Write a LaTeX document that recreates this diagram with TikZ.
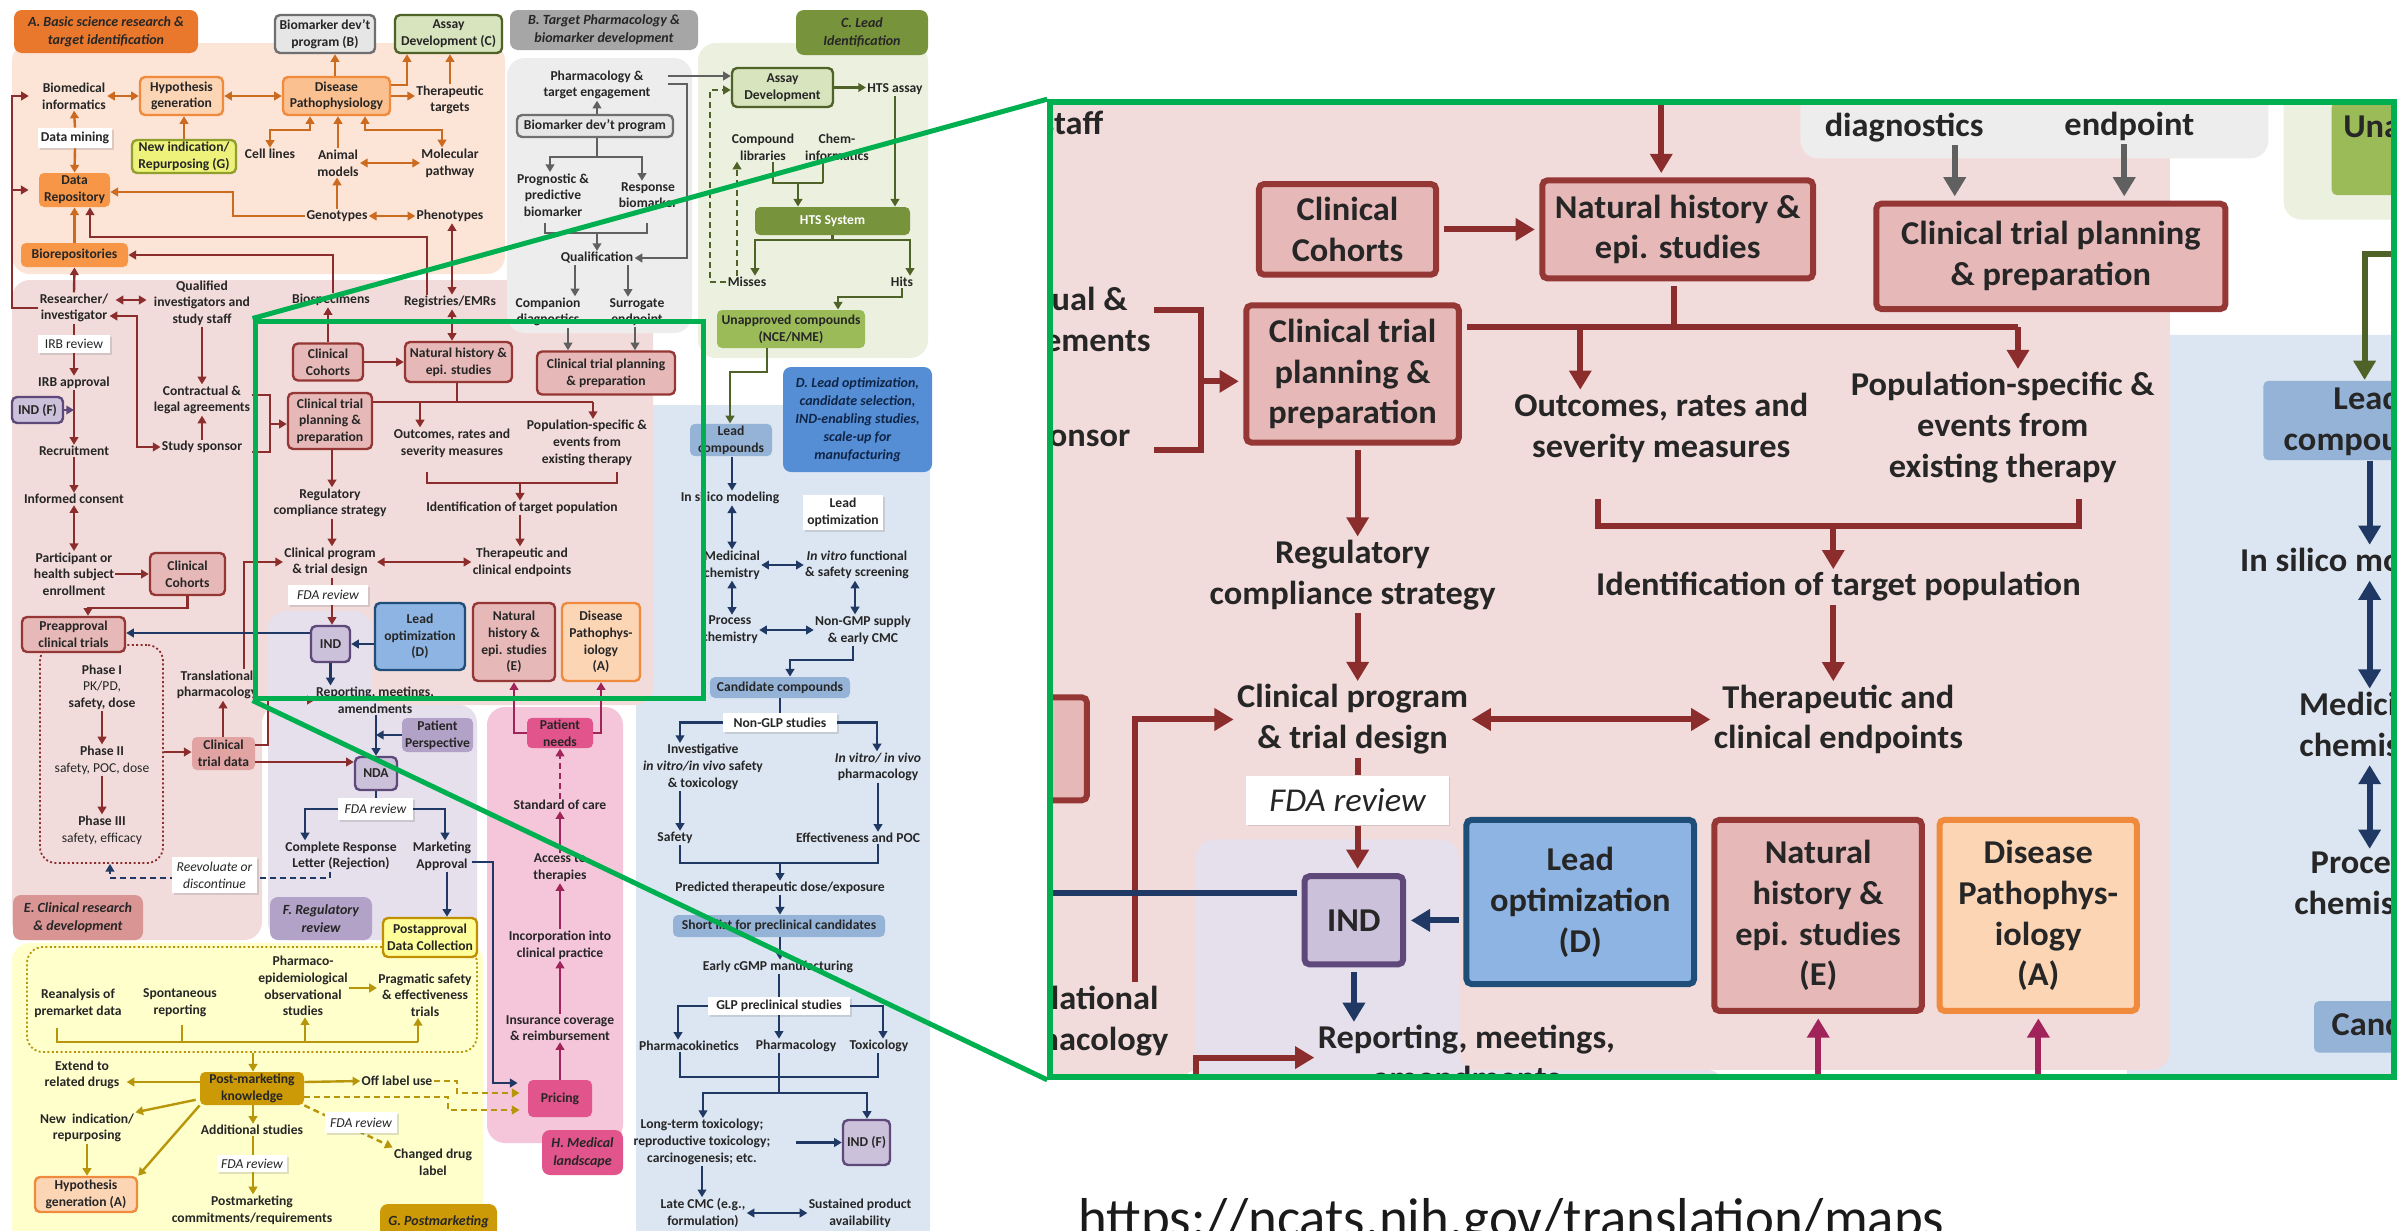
\documentclass[tikz,border=0pt]{standalone}
\usepackage{fontspec}
\setmainfont{Carlito}
\usetikzlibrary{arrows.meta,calc,shadows}
\definecolor{bgA}{HTML}{FCE4D6}\definecolor{bgB}{HTML}{EDEDED}\definecolor{bgC}{HTML}{EBF1DE}
\definecolor{bgD}{HTML}{DCE6F2}\definecolor{bgE}{HTML}{F2DCDB}\definecolor{bgF}{HTML}{E5E0EC}
\definecolor{bgG}{HTML}{FFFFCC}\definecolor{bgH}{HTML}{F5C6DA}
\definecolor{labA}{HTML}{E9782D}\definecolor{labB}{HTML}{A6A6A6}\definecolor{labC}{HTML}{77933C}
\definecolor{labD}{HTML}{558ED5}\definecolor{labE}{HTML}{D99594}\definecolor{lavD}{HTML}{B3A2C7}
\definecolor{magF}{HTML}{E2558C}\definecolor{gldF}{HTML}{CC9A06}
\definecolor{pch}{HTML}{FCD5B5}\definecolor{pchD}{HTML}{FAC090}\definecolor{orgB}{HTML}{F08A3C}
\definecolor{orgF}{HTML}{F79646}\definecolor{ylw}{HTML}{EEF27A}\definecolor{ylwB}{HTML}{8FA02E}
\definecolor{gryF}{HTML}{E7E6E6}\definecolor{gryB}{HTML}{6F6F6F}\definecolor{grnF}{HTML}{D7E4BD}
\definecolor{grnB}{HTML}{4F6228}\definecolor{grnM}{HTML}{9BBB59}\definecolor{pnkF}{HTML}{E6B9B8}
\definecolor{pnkB}{HTML}{953735}\definecolor{ctdF}{HTML}{E2A3A3}\definecolor{lavF}{HTML}{CCC1DA}
\definecolor{purB}{HTML}{5F497A}\definecolor{bluF}{HTML}{8DB4E2}\definecolor{bluB}{HTML}{1F4E79}
\definecolor{bluM}{HTML}{95B3D7}\definecolor{ylwP}{HTML}{FFFF99}\definecolor{gldB}{HTML}{C09000}
\definecolor{txt}{HTML}{262626}\definecolor{navT}{HTML}{0F2547}
\definecolor{org}{HTML}{CC6A1F}\definecolor{mar}{HTML}{8C2D2D}\definecolor{gry}{HTML}{606060}
\definecolor{grn}{HTML}{4F6228}\definecolor{nav}{HTML}{1F3864}\definecolor{pur}{HTML}{5F497A}
\definecolor{mag}{HTML}{A0245A}\definecolor{gld}{HTML}{B8960C}\definecolor{zgrn}{HTML}{00B050}
\definecolor{urlc}{HTML}{1A1A1A}

\newcommand\lw{1.2pt}
\newcommand\mapfont{\fontsize{6.8}{8.35}\selectfont\bfseries}
\newcommand\labfont{\fontsize{7}{9}\selectfont\bfseries\itshape}
\newcommand\regfont{\fontsize{6.8}{8.35}\selectfont\mdseries}
\newcommand\itfont{\fontsize{6.8}{8.35}\selectfont\mdseries\itshape}

\tikzset{
 >={Triangle[length=0pt 3.2,width=0pt 3.6]},
 tx/.style={font=\mapfont, text=txt, align=center, inner sep=0.5pt},
 wh/.style 2 args={minimum width=#1*0.5pt, minimum height=#2*0.5pt},
 bx/.style={tx, draw, rounded corners=2.5pt, line width=\lw, inner sep=1pt},
 fb/.style={tx, rounded corners=2.5pt, inner sep=1pt},
 wb/.style={tx, fill=white, inner sep=1pt, font=\itfont, drop shadow={shadow xshift=0.8pt, shadow yshift=-0.8pt, opacity=0.25}},
 lab/.style={font=\labfont, text=txt, align=center, rounded corners=4pt, inner sep=1pt},
 ln/.style={line width=\lw},
 arr/.style={line width=\lw, ->},
 darr/.style={line width=\lw, <->},
 dsh/.style={dash pattern=on 3pt off 2pt},
}

% ================= backgrounds
\newcommand\mapbg{%
\fill[bgD, rounded corners=9pt] (636,405) rectangle (930,1245);
\fill[bgE, rounded corners=9pt] (12,280) -- (653,280) -- (653,705) -- (262,705) -- (262,940) -- (12,940) -- cycle;
\fill[bgA, rounded corners=9pt] (12,43) rectangle (505,274);
\fill[bgB, rounded corners=9pt] (507,58) rectangle (692,333);
\fill[bgC, rounded corners=9pt] (698,43) rectangle (928,358);
\fill[bgF, rounded corners=9pt] (268,611) -- (372,611) -- (372,705) -- (477,705) -- (477,940) -- (268,940) -- cycle;
\fill[bgH, rounded corners=9pt] (487,707) rectangle (623,1143);
\fill[bgG, rounded corners=9pt] (12,943) rectangle (483,1245);
}

% ================= elements that also appear in the magnified view
\newcommand\mapnear{%
\node[tx] (qualinv) at (202,303) {Qualified\\investigators and\\study staff};
\node[tx] (contract) at (202,400) {Contractual \&\\legal agreements};
\node[tx] (studysp) at (202,447) {Study sponsor};
\node[bx, fill=pnkF, draw=pnkB, wh={75}{42}] (cohortsL) at (187.5,574) {Clinical\\Cohorts};
\node[tx] (transl) at (217,685) {Translational\\pharmacology};
\node[bx, fill=pnkF, draw=pnkB, wh={70}{37}] (cohortsR) at (328,362) {Clinical\\Cohorts};
\node[bx, fill=pnkF, draw=pnkB, wh={107}{40}] (natR) at (458.5,362) {Natural history \&\\epi. studies};
\node[bx, fill=pnkF, draw=pnkB, wh={138}{43}] (ctpR) at (606,373) {Clinical trial planning\\\& preparation};
\node[bx, fill=pnkF, draw=pnkB, wh={84}{56}] (planL) at (330,421) {Clinical trial\\planning \&\\preparation};
\node[tx] (outcomes) at (452,443) {Outcomes, rates and\\severity measures};
\node[tx] (popspec) at (587,443) {Population-specific \&\\events from\\existing therapy};
\node[tx] (identif) at (522,508) {Identification of target population};
\node[tx] (therap) at (522,562) {Therapeutic and\\clinical endpoints};
\node[tx] (regcomp) at (330,503) {Regulatory\\compliance strategy};
\node[tx] (clinprog) at (330,562) {Clinical program\\\& trial design};
\node[wb, wh={80}{20}] (fdarevE) at (328,595) {FDA review};
\node[bx, fill=lavF, draw=purB, wh={39}{36}] (ind) at (330.5,644) {IND};
\node[bx, fill=bluF, draw=bluB, wh={90}{67}] (leadD) at (420,636.5) {Lead\\optimization\\(D)};
\node[bx, fill=pnkF, draw=pnkB, wh={82}{78}] (natE) at (514,642) {Natural\\history \&\\epi. studies\\(E)};
\node[bx, fill=pch, draw=orgB, wh={78}{78}] (disA) at (601,642) {Disease\\Pathophys-\\iology\\(A)};
\node[tx] (reporting) at (375,700) {Reporting, meetings,\\amendments};
\node[tx] (companion) at (548,312) {Companion\\diagnostics};
\node[tx] (surrogate) at (637,312) {Surrogate\\endpoint};
\node[fb, fill=grnM, wh={148}{38}] (unappr) at (791,329) {Unapproved compounds\\(NCE/NME)};
\node[fb, fill=bluM, wh={82}{30}] (leadcomp) at (731,440) {Lead\\compounds};
\node[tx] (insilico) at (730,498) {In silico modeling};
\node[tx] (medchem) at (732,565) {Medicinal\\chemistry};
\node[tx] (process) at (730,630) {Process\\chemistry};
\node[fb, fill=bluM, wh={140}{21}] (candid) at (780,687.5) {Candidate compounds};
% connectors
\draw[arr, mar] (qualinv.south) -- (contract.north);
\draw[arr, mar] (studysp.north) -- (contract.south);
\draw[ln, mar] (contract.east |- 0,395) -| (270,452) -- (contract.east |- 0,452);
\draw[arr, mar] (270,424) -- (planL.west |- 0,424);
\draw[arr, mar] (cohortsR.east) -- (natR.west);
\draw[ln, mar] (natR.south -| 457,0) -- (457,402);
\draw[ln, mar] (planL.east |- 0,402) -- (593,402);
\draw[arr, mar] (420,402) -- (outcomes.north -| 420,0);
\draw[arr, mar] (593,402) -- (popspec.north -| 593,0);
\draw[ln, mar] (427,472) |- (617,483) -- (617,472);
\draw[arr, mar] (520,483) -- (identif.north -| 520,0);
\draw[arr, mar] (identif.south -| 520,0) -- (therap.north -| 520,0);
\draw[arr, mar] (planL.south -| 332,0) -- (regcomp.north -| 332,0);
\draw[arr, mar] (regcomp.south -| 332,0) -- (clinprog.north -| 332,0);
\draw[darr, mar] (clinprog.east) -- (therap.west);
\draw[ln, mar] (clinprog.south -| 332,0) -- (fdarevE.north -| 332,0);
\draw[arr, mar] (fdarevE.south -| 332,0) -- (ind.north -| 332,0);
\draw[arr, nav] (leadD.west |- ind.east) -- (ind.east);
\draw[arr, nav] (ind.south) -- (reporting.north -| ind.south);
\draw[arr, mar] (transl.north -| 244,0) |- (clinprog.west);
\draw[arr, gry] (companion.south -| 568,0) -- (ctpR.north -| 568,0);
\draw[arr, gry] (surrogate.south -| 635,0) -- (ctpR.north -| 635,0);
\draw[arr, grn] (unappr.south -| 767,0) |- (730,372) -- (leadcomp.north -| 730,0);
\draw[arr, nav] (leadcomp.south -| 732,0) -- (insilico.north -| 732,0);
\draw[darr, nav] (insilico.south -| 732,0) -- (medchem.north -| 732,0);
\draw[darr, nav] (medchem.south -| 732,0) -- (process.north -| 732,0);
}

% ================= the rest of the map
\newcommand\mapfar{%
% ---------- A
\node[lab, fill=labA, wh={184}{43}] (labA) at (106,31.5) {A. Basic science research \&\\target identification};
\node[tx] (bioinf) at (74,96) {Biomedical\\informatics};
\node[bx, fill=pch, draw=orgB, wh={83}{38}] (hypgen) at (181.5,96) {Hypothesis\\generation};
\node[bx, fill=pchD, draw=orgB, wh={107}{38}] (dispath) at (336.5,96) {Disease\\Pathophysiology};
\node[wb, font=\mapfont, wh={74}{20}] (datamining) at (75,138) {Data mining};
\node[fb, fill=orgF, wh={71}{34}] (datarepo) at (74.5,190) {Data\\Repository};
\node[bx, fill=ylw, draw=ylwB, wh={104}{33}] (newind) at (184,156.5) {New indication/\\Repurposing (G)};
\node[tx] (celllines) at (270,154) {Cell lines};
\node[tx] (animal) at (338,163) {Animal\\models};
\node[tx] (molpath) at (450,163) {Molecular\\pathway};
\node[tx] (thertarg) at (450,100) {Therapeutic\\targets};
\node[bx, fill=gryF, draw=gryB, wh={100}{38}] (biomB) at (325,34) {Biomarker dev’t\\program (B)};
\node[bx, fill=grnF, draw=grnB, wh={107}{38}] (assayC) at (448.5,34) {Assay\\Development (C)};
\node[tx] (genotypes) at (337,216) {Genotypes};
\node[tx] (phenotypes) at (450,216) {Phenotypes};
\node[fb, fill=orgF, wh={107}{24}] (biorepo) at (74.5,255) {Biorepositories};
% ---------- B
\node[lab, fill=labB, wh={188}{40}] (labB) at (604,30) {B. Target Pharmacology \&\\biomarker development};
\node[tx] (pharmeng) at (597,85) {Pharmacology \&\\target engagement};
\node[bx, fill=gryF, draw=gryB, wh={156}{22}] (biomprog) at (595,126) {Biomarker dev’t program};
\node[tx] (prognostic) at (553,195) {Prognostic \&\\predictive\\biomarker};
\node[tx] (response) at (648,195) {Response\\biomarker};
\node[tx] (qualif) at (597,258) {Qualification};
% ---------- C
\node[lab, fill=labC, wh={132}{45}] (labC) at (862,32.5) {C. Lead\\Identification};
\node[bx, fill=grnF, draw=grnB, wh={101}{39}] (assayCL) at (782.5,87.5) {Assay\\Development};
\node[tx] (htsassay) at (895,89) {HTS assay};
\node[tx] (complib) at (763,147) {Compound\\libraries};
\node[tx] (cheminf) at (837,147) {Chem-\\informatics};
\node[fb, fill=labC, text=white, wh={155}{28}] (htssys) at (832.5,221) {HTS System};
\node[tx] (misses) at (747,282) {Misses};
\node[tx] (hits) at (902,282) {Hits};
% ---------- D
\node[lab, fill=labD, text=navT, wh={149}{105}] (labD) at (857.5,419.5) {D. Lead optimization,\\candidate selection,\\IND-enabling studies,\\scale-up for\\manufacturing};
\node[wb, font=\mapfont, wh={80}{35}] (leadopt) at (843,512.5) {Lead\\optimization};
\node[tx] (invitro) at (857,565) {\textit{In vitro} functional\\\& safety screening};
\node[tx] (nongmp) at (863,630) {Non-GMP supply\\\& early CMC};
\node[wb, font=\mapfont, wh={114}{19}] (nonglp) at (780,722.5) {Non-GLP studies};
\node[tx] (investig) at (703,767) {Investigative\\\textit{in vitro/in vivo} safety\\\& toxicology};
\node[tx] (invivo) at (878,767) {\textit{In vitro/ in vivo}\\pharmacology};
\node[tx] (safety) at (675,838) {Safety};
\node[tx] (effect) at (858,838) {Effectiveness and POC};
\node[tx] (predicted) at (780,888) {Predicted therapeutic dose/exposure};
\node[fb, fill=bluM, wh={212}{22}] (shortlist) at (779,926) {Short list for preclinical candidates};
\node[tx] (earlycgmp) at (778,967) {Early cGMP manufacturing};
\node[wb, font=\mapfont, wh={142}{18}] (glp) at (779,1006) {GLP preclinical studies};
\node[tx] (pk) at (689,1046) {Pharmacokinetics};
\node[tx] (pharm) at (796,1046) {Pharmacology};
\node[tx] (tox) at (879,1046) {Toxicology};
\node[tx] (longterm) at (702,1142) {Long-term toxicology;\\reproductive toxicology;\\carcinogenesis; etc.};
\node[bx, fill=lavF, draw=purB, wh={47}{45}] (indF2) at (866.5,1142.5) {IND (F)};
\node[tx] (latecmc) at (703,1213) {Late CMC (e.g.,\\formulation)};
\node[tx] (sustained) at (860,1213) {Sustained product\\availability};
% ---------- E
\node[tx] (researcher) at (74,308) {Researcher/\\investigator};
\node[wb, font=\regfont, wh={72}{18}] (irbrev) at (74,344) {IRB review};
\node[tx] (irbapp) at (74,383) {IRB approval};
\node[bx, fill=lavF, draw=purB, wh={51}{26}] (indF1) at (37.5,410) {IND (F)};
\node[tx] (recruit) at (74,451) {Recruitment};
\node[tx] (consent) at (74,499) {Informed consent};
\node[tx] (particip) at (74,574) {Participant or\\health subject\\enrollment};
\node[tx] (biospec) at (331,300) {Biospecimens};
\node[tx] (regemr) at (450,302) {Registries/EMRs};
\node[draw=mar, line width=0.9pt, dash pattern=on 1pt off 1.2pt, rounded corners=8pt, wh={123}{218}] (phasebox) at (101.5,754) {};
\node[bx, fill=pnkF, draw=pnkB, wh={103}{35}] (preapp) at (73.5,634.5) {Preapproval\\clinical trials};
\node[tx] (phase1) at (102,687) {Phase I\\\mdseries PK/PD,\\safety, dose};
\node[tx] (phase2) at (102,760) {Phase II\\\mdseries safety, POC, dose};
\node[tx] (phase3) at (102,830) {Phase III\\\mdseries safety, efficacy};
\node[fb, fill=ctdF, wh={63}{33}] (ctdata) at (223.5,753.5) {Clinical\\trial data};
\node[lab, fill=labE, wh={130}{45}] (labE) at (78,917.5) {E. Clinical research\\\& development};
% ---------- F
\node[fb, fill=lavD, wh={71}{34}] (patpersp) at (437.5,735) {Patient\\Perspective};
\node[bx, fill=lavF, draw=purB, wh={42}{33}] (nda) at (376,773.5) {NDA};
\node[wb, wh={75}{22}] (fdarevF) at (375.5,809) {FDA review};
\node[tx] (crl) at (341,856) {Complete Response\\Letter (Rejection)};
\node[tx] (mktapp) at (442,856) {Marketing\\Approval};
\node[lab, fill=lavD, wh={102}{43}] (labF) at (321,918.5) {F. Regulatory\\review};
% ---------- H
\node[fb, fill=magF, wh={66}{30}] (patneeds) at (560,733) {Patient\\needs};
\node[tx] (stdcare) at (560,805) {Standard of care};
\node[tx] (access) at (560,868) {Access to\\therapies};
\node[tx] (incorp) at (560,945) {Incorporation into\\clinical practice};
\node[tx] (insur) at (560,1028) {Insurance coverage\\\& reimbursement};
\node[fb, fill=magF, wh={64}{37}] (pricing) at (560,1098.5) {Pricing};
\node[lab, fill=magF, wh={81}{45}] (labH) at (582.5,1152.5) {H. Medical\\landscape};
% ---------- G
\node[draw=gld, line width=0.9pt, dash pattern=on 1pt off 1.2pt, rounded corners=8pt, wh={450}{105}] (gbox) at (252,999.5) {};
\node[bx, fill=ylwP, draw=gldB, wh={94}{39}] (postapp) at (430,937.5) {Postapproval\\Data Collection};
\node[tx] (reanal) at (78,1003) {Reanalysis of\\premarket data};
\node[tx] (spont) at (180,1003) {Spontaneous\\reporting};
\node[tx] (pharmepi) at (303,986) {Pharmaco-\\epidemiological\\observational\\studies};
\node[tx] (pragm) at (425,995) {Pragmatic safety\\\& effectiveness\\trials};
\node[fb, fill=gldF, wh={104}{33}] (postmk) at (252,1088.5) {Post-marketing\\knowledge};
\node[tx] (extend) at (82,1075) {Extend to\\related drugs};
\node[tx] (newind2) at (87,1128) {New\ \ indication/\\repurposing};
\node[bx, fill=pch, draw=orgB, wh={102}{35}] (hypA) at (86,1194.5) {Hypothesis\\generation (A)};
\node[tx] (addst) at (252,1130) {Additional studies};
\node[wb, wh={70}{17}] (fdarevG) at (252,1163.5) {FDA review};
\node[tx] (postmc) at (252,1210) {Postmarketing\\commitments/requirements};
\node[tx] (offlabel) at (397,1081) {Off label use};
\node[tx] (chgdrug) at (433,1162) {Changed drug\\label};
\node[lab, fill=gldF, wh={117}{36}] (labG) at (438.5,1222) {G. Postmarketing};
% ---------- connectors A
\draw[darr, org] (bioinf.east) -- (hypgen.west);
\draw[darr, org] (hypgen.east) -- (dispath.west);
\draw[arr, org] (datamining.north) -- (bioinf.south);
\draw[arr, org] (datamining.south) -- (datarepo.north);
\draw[arr, org] (newind.north) -- (newind.north |- hypgen.south);
\draw[darr, org] (celllines.north) |- (310,130) -- (dispath.south -| 310,0);
\draw[arr, org] (animal.north) -- (animal.north |- dispath.south);
\draw[darr, org] (dispath.south -| 365,0) |- (442,130) -- (molpath.north -| 442,0);
\draw[darr, org] (animal.east) -- (molpath.west);
\draw[arr, org] (dispath.east) -- (thertarg.west |- dispath.east);
\draw[arr, org] (dispath.north -| 335,0) -- (biomB.south -| 335,0);
\draw[arr, org] (dispath.east |- 0,85) -| (assayC.south -| 407,0);
\draw[arr, org] (thertarg.north) -- (thertarg.north |- assayC.south);
\draw[darr, org] (genotypes.east) -- (phenotypes.west);
\draw[arr, org] (genotypes.north) -- (genotypes.north |- animal.south);
\draw[arr, org] (genotypes.west) -- (233,216) |- (datarepo.east |- 0,192);
\draw[arr, org] (biorepo.north) -- (datarepo.south);
% ---------- connectors B
\draw[arr, gry] (biomprog.north -| pharmeng.south) -- (pharmeng.south);
\draw[ln, gry] (biomprog.south -| 597,0) -- (597,157);
\draw[arr, gry] (597,157) -| (prognostic.north -| 550,0);
\draw[arr, gry] (597,157) -| (response.north -| 642,0);
\draw[ln, gry] (545,223) |- (647,233) -- (647,223);
\draw[arr, gry] (597,233) -- (qualif.north);
\draw[arr, gry] (qualif.south -| 575,0) -- (companion.north -| 575,0);
\draw[arr, gry] (qualif.south -| 628,0) -- (surrogate.north -| 628,0);
\draw[arr, gry, shorten <=8pt] (pharmeng.east |- 0,76) -- (assayCL.west |- 0,76);
\draw[arr, gry, shorten <=8pt] (pharmeng.east |- 0,84) -| (687,258) -- (qualif.east);
% ---------- connectors C
\draw[arr, grn] (assayCL.east) -- (htsassay.west |- assayCL.east);
\draw[arr, grn] (htsassay.south) -- (htssys.north -| htsassay.south);
\draw[ln, grn] (complib.south -| 773,0) |- (823,183);
\draw[ln, grn] (cheminf.south -| 823,0) -- (823,183);
\draw[arr, grn] (798,183) -- (htssys.north -| 798,0);
\draw[ln, grn] (htssys.south) -- (832.5,240);
\draw[arr, grn] (832.5,240) -| (misses.north -| 755,0);
\draw[arr, grn] (832.5,240) -| (hits.north -| 910,0);
\draw[arr, grn, dsh] (misses.west) -| (710,90) -- (assayCL.west |- 0,90);
\draw[arr, grn, dsh] (misses.north -| 737,0) -- (complib.south -| 737,0);
\draw[arr, grn] (hits.south) |- (838,297) -- (unappr.north -| 838,0);
% ---------- connectors D
\draw[darr, nav] (medchem.east) -- (invitro.west);
\draw[darr, nav] (invitro.south -| 855,0) -- (nongmp.north -| 855,0);
\draw[darr, nav] (process.east) -- (nongmp.west);
\draw[arr, nav] (nongmp.south -| 853,0) |- (790,660) -- (candid.north -| 790,0);
\draw[ln, nav] (candid.south) -- (nonglp.north);
\draw[arr, nav] (nonglp.west) -| (investig.north -| 680,0);
\draw[arr, nav] (nonglp.east) -| (invivo.north -| 877,0);
\draw[arr, nav] (investig.south -| 680,0) -- (safety.north -| 680,0);
\draw[arr, nav] (invivo.south -| 878,0) -- (effect.north -| 878,0);
\draw[ln, nav] (safety.south -| 680,0) |- (878,863) -- (effect.south -| 878,0);
\draw[arr, nav] (780,863) -- (predicted.north -| 780,0);
\draw[arr, nav] (predicted.south -| 780,0) -- (shortlist.north -| 780,0);
\draw[arr, nav] (shortlist.south -| 780,0) -- (earlycgmp.north -| 780,0);
\draw[ln, nav] (earlycgmp.south -| 779,0) -- (glp.north -| 779,0);
\draw[arr, nav] (glp.west) -| (pk.north -| 678,0);
\draw[arr, nav] (glp.east) -| (tox.north -| 883,0);
\draw[arr, nav] (glp.south) -- (pharm.north -| glp.south);
\draw[ln, nav] (pk.south -| 680,0) |- (878,1077) -- (tox.south -| 878,0);
\draw[ln, nav] (pharm.south -| 779,0) -- (779,1093);
\draw[arr, nav] (779,1093) -| (longterm.north -| 703,0);
\draw[arr, nav] (779,1093) -| (indF2.north -| 867,0);
\draw[arr, nav, shorten <=12pt] (longterm.east |- indF2.west) -- (indF2.west);
\draw[arr, nav] (longterm.south -| 702,0) -- (latecmc.north -| 702,0);
\draw[darr, nav] (latecmc.east) -- (sustained.west);
% ---------- connectors E
\draw[arr, mar] (regemr.north -| 427,0) |- (90,237) -- (datarepo.south -| 90,0);
\draw[arr, mar] (biospec.north -| 333,0) |- (biorepo.east);
\draw[darr, mar] (phenotypes.south -| 452,0) -- (regemr.north -| 452,0);
\draw[darr, mar] (regemr.south -| 452,0) -- (natR.north -| 452,0);
\draw[arr, mar] (cohortsR.north) -- (biospec.south -| cohortsR.north);
\draw[arr, mar] (researcher.north) -- (biorepo.south);
\draw[arr, mar] (researcher.west) -| (12,96) -- ([xshift=-6pt]bioinf.west);
\draw[arr, mar] (12,190) -- ([xshift=-5pt]datarepo.west);
\draw[darr, mar, shorten <=3pt, shorten >=3pt] (researcher.east |- 0,300) -- (qualinv.west |- 0,300);
\draw[darr, mar] (researcher.east |- 0,316) -- (137,316) |- (studysp.west);
\draw[ln, mar] (researcher.south) -- (irbrev.north);
\draw[arr, mar] (irbrev.south) -- (irbapp.north);
\draw[arr, pur] (indF1.east) -- (indF1.east -| irbapp.south);
\draw[arr, mar] (irbapp.south) -- (recruit.north);
\draw[arr, mar] (recruit.south) -- (consent.north);
\draw[darr, mar] (consent.south) -- (particip.north);
\draw[arr, mar] (particip.east) -- (cohortsL.west);
\draw[arr, mar] (cohortsL.south) |- (88,608) -- (preapp.north -| 88,0);
\draw[arr, nav] (ind.west |- 0,633) -- (preapp.east |- 0,633);
\draw[arr, mar] (phase1.south) -- (phase2.north);
\draw[arr, mar] (phase2.south) -- (phase3.north);
\draw[arr, mar] (phasebox.east |- 0,752) -- (ctdata.west |- 0,752);
\draw[arr, mar] (ctdata.north -| 223,0) -- (transl.south -| 223,0);
\draw[arr, mar] (ctdata.east |- 0,745) -- (268,745) |- (reporting.west);
\draw[arr, mar] (ctdata.east |- 0,762) -- (nda.west |- 0,762);
% ---------- connectors F
\draw[arr, nav] (reporting.south -| nda.north) -- (nda.north);
\draw[arr, nav] (patpersp.west) -- (patpersp.west -| nda.north);
\draw[ln, nav] (nda.south) -- (fdarevF.north -| nda.south);
\draw[arr, nav] (fdarevF.west) -| (crl.north -| 305,0);
\draw[arr, nav] (fdarevF.east) -| (mktapp.north -| 445,0);
\draw[arr, nav, dsh] (crl.south -| 330,0) |- (110,878) -- (phasebox.south -| 110,0);
\draw[arr, nav] (mktapp.south -| 447,0) -- (postapp.north -| 447,0);
\draw[arr, nav, shorten >=5pt] (mktapp.east |- 0,862) -| (493,1083) -- (pricing.west |- 0,1083);
% ---------- connectors H
\draw[arr, mag] (patneeds.west) -| (natE.south);
\draw[arr, mag] (patneeds.east) -| (disA.south);
\draw[arr, mag, dsh] (stdcare.north) -- (patneeds.south);
\draw[arr, mag] (access.north) -- (stdcare.south);
\draw[arr, mag] (incorp.north) -- (access.south);
\draw[arr, mag] (insur.north) -- (incorp.south);
\draw[arr, mag] (pricing.north) -- (insur.south);
% ---------- connectors G
\draw[arr, gld] (pharmepi.east |- 0,988) -- (pragm.west |- 0,988);
\draw[ln, gld] (57,1028) |- (418,1042);
\draw[ln, gld] (182,1025) -- (182,1042);
\draw[arr, gld] (305,1042) -- (pharmepi.south -| 305,0);
\draw[arr, gld] (418,1042) -- (pragm.south -| 418,0);
\draw[arr, gld] (gbox.south -| 253,0) -- (postmk.north -| 253,0);
\draw[arr, gld, shorten >=3pt] (postmk.west |- 0,1082) -- (extend.east |- 0,1082);
\draw[arr, gld, shorten <=2pt] (postmk.west |- 0,1099) -- (newind2.north east);
\draw[arr, gld] (postmk.south west) -- (hypA.north east);
\draw[arr, gld] (newind2.south) -- (hypA.north -| newind2.south);
\draw[arr, gld] (postmk.south -| 253,0) -- (addst.north -| 253,0);
\draw[ln, gld] (addst.south -| 253,0) -- (fdarevG.north -| 253,0);
\draw[arr, gld] (fdarevG.south -| 253,0) -- (postmc.north -| 253,0);
\draw[arr, gld] (postmk.east |- 0,1082) -- (offlabel.west);
\draw[arr, gld, dsh, shorten >=4pt] (offlabel.east) -- (457,1081) |- (pricing.west |- 0,1093);
\draw[arr, gld, dsh, shorten >=4pt] (postmk.east |- 0,1097) -- (448,1097) |- (pricing.west |- 0,1110);
\draw[arr, gld, dsh] (postmk.south east) -- (chgdrug.north west);
\node[wb, wh={72}{21}] (fdarevG2) at (361,1122.5) {FDA review};
\node[wb, wh={85}{36}] (reeval) at (214.5,875) {Reevoluate or\\discontinue};
}

% ================= line ends that enter the magnified view from outside it
\newcommand\insetextra{%
\draw[arr, mar] (452,300) -- (natR.north -| 452,0);
\draw[arr, nav] (ind.west |- 0,633) -- (125,633);
\draw[arr, mar] (255,745) -- (268,745) |- (reporting.west);
\draw[arr, mag] (527,733) -| (natE.south);
\draw[arr, mag] (593,733) -| (disA.south);
}

\begin{document}
\begin{tikzpicture}[x=0.5pt, y=-0.5pt]
\useasboundingbox (0,0) rectangle (2399,1231);
\fill[white] (0,0) rectangle (2399,1231);
\mapbg
\mapnear
\mapfar
\begin{scope}
\clip (1050,102) rectangle (2394,1077);
\fill[white] (1050,102) rectangle (2394,1077);
\begin{scope}[shift={(1050,102)}, xscale=2.53, yscale=2.45, shift={(-210.4,-310)}, transform shape, name prefix=z-]
\renewcommand\lw{3pt}
\mapbg
\mapnear
\insetextra
\end{scope}
\end{scope}
\node[draw=zgrn, line width=2.5pt, inner sep=0pt, wh={448}{377}] (zsrc) at (479,509.5) {};
\node[draw=zgrn, line width=2.8pt, inner sep=0pt, wh={1344}{975}] (zdst) at (1722,589.5) {};
\draw[zgrn, line width=2.5pt] (zsrc.north west) -- (zdst.north west);
\draw[zgrn, line width=2.5pt] (zsrc.south west) -- (zdst.south west);
\node[anchor=base west, font=\fontsize{27.4}{32}\selectfont, text=urlc, inner sep=0pt] (url) at (1078,1236) {https://ncats.nih.gov/translation/maps};
\end{tikzpicture}
\end{document}
